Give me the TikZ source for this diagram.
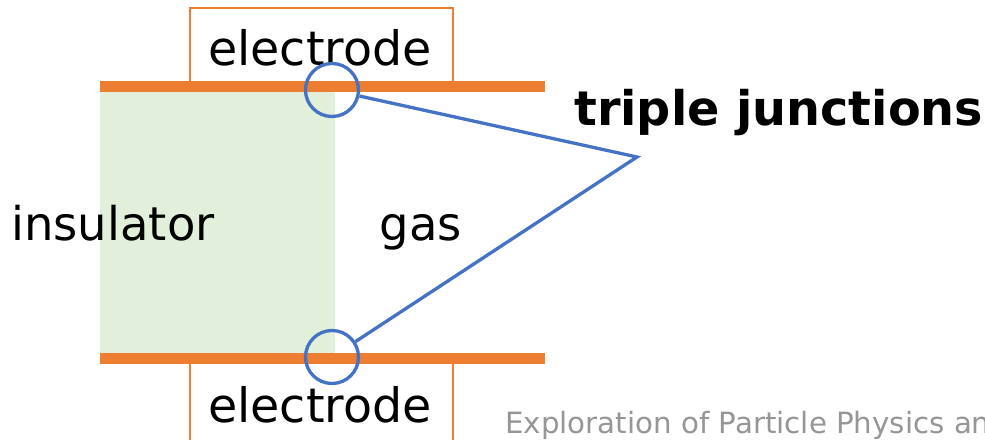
\documentclass[tikz,border=0pt]{standalone}
\usepackage{fontspec}
\setmainfont{DejaVu Sans}
\definecolor{elorange}{HTML}{ED7D31}
\definecolor{insgreen}{HTML}{E2EFDA}
\definecolor{tjblue}{HTML}{4472C4}
\definecolor{wmgray}{RGB}{150,150,150}
\tikzset{
  bigtext/.style={font=\fontsize{46.5}{50}\selectfont, anchor=base, inner sep=0pt},
  elbox/.style={draw=elorange, line width=2pt, fill=white},
  tjcircle/.style={circle, draw=tjblue, line width=3.3pt, minimum size=53pt, inner sep=0pt},
  tjline/.style={draw=tjblue, line width=3.3pt},
}
\begin{document}
\begin{tikzpicture}[x=1pt,y=-1pt]
\useasboundingbox (0,0) rectangle (985,439);
\begin{scope}
\clip (0,0) rectangle (985,439);
% insulator
\fill[insgreen] (100,91) rectangle (335,353);
% electrode boxes
\draw[elbox] (190,8) rectangle (453,84);
\draw[elbox] (190,362) rectangle (453,450);
% electrode bars
\fill[elorange] (100,81) rectangle (545,92);
\fill[elorange] (100,353) rectangle (545,364);
% texts
\node[bigtext, font=\fontsize{47.5}{50}\selectfont] (eltop) at (320,65) {electrode};
\node[bigtext, font=\fontsize{47.5}{50}\selectfont] (elbot) at (320,422) {electrode};
\node[bigtext] (ins) at (113,240) {insulator};
\node[bigtext] (gas) at (421,240) {gas};
\node[bigtext, anchor=base west, font=\fontsize{47.7}{50}\selectfont\bfseries] (tjlabel) at (574,125) {triple junctions};
% triple junctions
\node[tjcircle] (tj1) at (332,90) {};
\node[tjcircle] (tj2) at (332,357) {};
\coordinate (v) at (637,157);
\draw[tjline, line join=miter] (tj1) -- (v) -- (tj2);
% watermark
\node[anchor=base west, inner sep=0pt, text=wmgray, font=\fontsize{29.3}{31}\selectfont] (wm) at (505,433) {Exploration of Particle Physics and};
\end{scope}
\end{tikzpicture}
\end{document}
